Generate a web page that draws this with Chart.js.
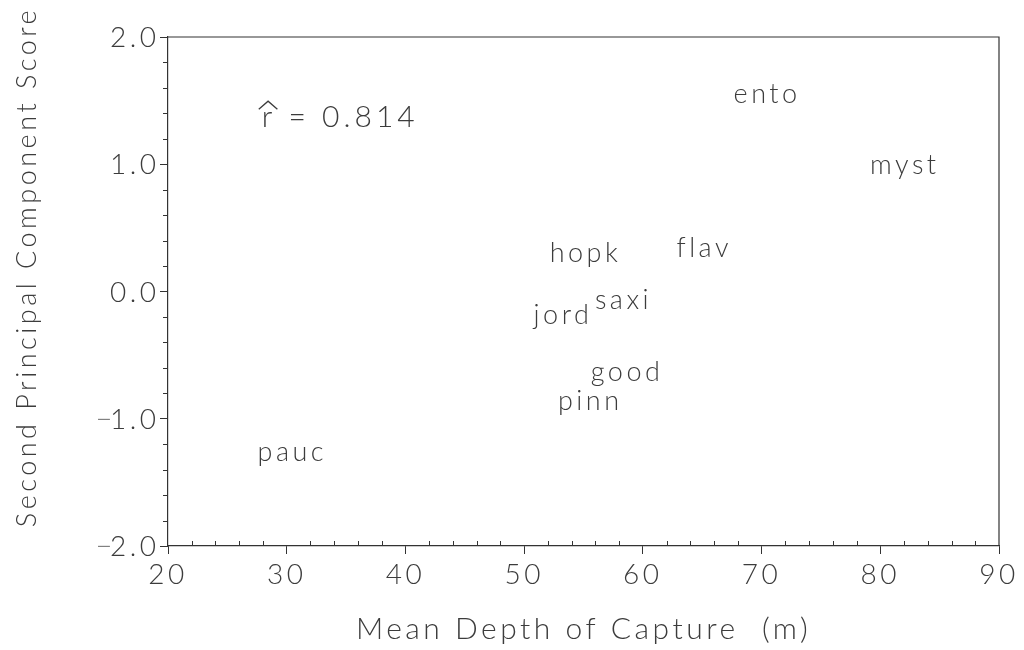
<!DOCTYPE html>
<html>
<head>
<meta charset="utf-8">
<script src="https://cdn.jsdelivr.net/npm/chart.js@4/dist/chart.umd.min.js"></script>
<style>
  html, body { margin: 0; padding: 0; background: #fff; }
  #wrap { width: 1024px; height: 650px; }
</style>
</head>
<body>
<div id="wrap"><canvas id="c" width="1024" height="650"></canvas></div>
<script>
// ---- data ----
const species = ["pauc", "hopk", "flav", "jord", "saxi", "good", "pinn", "ento", "myst"];
const meanDepth = [30.3, 55.0, 65.0, 53.1, 58.2, 58.5, 55.4, 70.3, 81.9];
const pcScore2 = [-1.28, 0.29, 0.33, -0.20, -0.08, -0.65, -0.88, 1.54, 0.98];
const xTicks = [20, 30, 40, 50, 60, 70, 80, 90];
const yTicks = [-2.0, -1.0, 0.0, 1.0, 2.0];
const rText = "r = 0.814";
const rAnchor = [27.9, 1.35];
const xTitle = "Mean Depth of Capture  (m)";
const yTitle = "Second Principal Component Score";

const FONT = "'Lato', 'Open Sans', sans-serif";
const INK = "#3c3c3c";
const LINE = "#333";
const SPACING = "3.5px";

const pts = meanDepth.map((x, i) => ({ x: x, y: pcScore2[i] }));

const spacingPlugin = {
  id: 'spacing',
  beforeDraw(chart) { chart.ctx.letterSpacing = SPACING; }
};

const labelPlugin = {
  id: 'labels',
  afterDatasetsDraw(chart) {
    const ctx = chart.ctx;
    const meta = chart.getDatasetMeta(0);
    ctx.save();
    ctx.letterSpacing = SPACING;
    ctx.fillStyle = INK;
    ctx.font = "300 27px " + FONT;
    const xh = ctx.measureText('x').actualBoundingBoxAscent;
    ctx.textAlign = 'center';
    ctx.textBaseline = 'alphabetic';
    meta.data.forEach((el, i) => {
      ctx.fillText(species[i], el.x + 2, el.y + xh / 2);
    });
    // r-hat annotation
    const xs = chart.scales.x, ys = chart.scales.y;
    const ax = xs.getPixelForValue(rAnchor[0]);
    const ay = ys.getPixelForValue(rAnchor[1]);
    ctx.textAlign = 'left';
    ctx.letterSpacing = "4px";
    ctx.font = "300 30px " + FONT;
    const xh2 = ctx.measureText('x').actualBoundingBoxAscent;
    ctx.fillText(rText, ax, ay + xh2 / 2);
    ctx.letterSpacing = "0px";
    const rw = ctx.measureText('r').width;
    const top = ay - xh2 / 2;
    ctx.strokeStyle = INK;
    ctx.lineWidth = 1.3;
    ctx.beginPath();
    ctx.moveTo(ax - 3, top - 3);
    ctx.lineTo(ax + rw / 2 + 1, top - 11);
    ctx.lineTo(ax + rw + 5, top - 3);
    ctx.stroke();
    ctx.restore();
  }
};

const framePlugin = {
  id: 'frame',
  afterDraw(chart) {
    const ctx = chart.ctx;
    const a = chart.chartArea;
    const xs = chart.scales.x, ys = chart.scales.y;
    ctx.save();
    ctx.strokeStyle = LINE;
    ctx.lineWidth = 1.2;
    ctx.beginPath();
    ctx.moveTo(a.left, a.top); ctx.lineTo(a.right, a.top); ctx.lineTo(a.right, a.bottom);
    ctx.stroke();
    // minor ticks
    ctx.lineWidth = 1;
    ctx.beginPath();
    for (let v = xs.min; v <= xs.max + 1e-9; v += 2) {
      if (Math.abs(v % 10) < 1e-9) continue;
      const px = Math.round(xs.getPixelForValue(v)) + 0.5;
      ctx.moveTo(px, a.bottom); ctx.lineTo(px, a.bottom - 5);
    }
    for (let v = ys.min; v <= ys.max + 1e-9; v += 0.2) {
      const r = Math.round(v * 10) / 10;
      if (Math.abs(r - Math.round(r)) < 1e-9) continue;
      const py = Math.round(ys.getPixelForValue(r)) + 0.5;
      ctx.moveTo(a.left, py); ctx.lineTo(a.left - 5, py);
    }
    ctx.stroke();
    // y tick labels (drawn at the scale's own pixel positions)
    ctx.fillStyle = INK;
    ctx.textBaseline = 'alphabetic';
    ctx.textAlign = 'right';
    const labelRight = a.left - 12;
    yTicks.forEach(v => {
      const py = ys.getPixelForValue(v);
      ctx.letterSpacing = SPACING;
      ctx.font = "300 28px " + FONT;
      const num = Math.abs(v).toFixed(1);
      const m = ctx.measureText(num);
      const capH = m.actualBoundingBoxAscent;
      ctx.fillText(num, labelRight + 3.5, py + capH / 2);
      if (v < 0) {
        ctx.letterSpacing = "0px";
        ctx.font = "200 19px 'DejaVu Sans', sans-serif";
        const mm = ctx.measureText("\u2212");
        const off = (mm.actualBoundingBoxAscent - mm.actualBoundingBoxDescent) / 2;
        ctx.fillText("\u2212", labelRight - m.width + 3.5 + 2, py + off);
      }
    });
    // y axis title
    ctx.letterSpacing = SPACING;
    ctx.font = "300 27px " + FONT;
    ctx.translate(36, 267);
    ctx.rotate(-Math.PI / 2);
    ctx.textAlign = 'center';
    ctx.textBaseline = 'alphabetic';
    ctx.fillText(yTitle, 0, 0);
    ctx.restore();
  }
};

new Chart(document.getElementById('c'), {
  type: 'scatter',
  data: {
    datasets: [{
      data: pts,
      pointRadius: 0,
      pointHoverRadius: 0,
      showLine: false
    }]
  },
  options: {
    responsive: false,
    animation: false,
    events: [],
    layout: { padding: { top: 37, right: 25, left: 0, bottom: 0 } },
    plugins: { legend: { display: false }, tooltip: { enabled: false } },
    scales: {
      x: {
        type: 'linear',
        min: 20, max: 90,
        afterBuildTicks(s) { s.ticks = xTicks.map(v => ({ value: v })); },
        afterFit(s) { s.height = 104; },
        border: { display: true, color: LINE, width: 1.2 },
        grid: { drawOnChartArea: false, drawTicks: true, tickLength: 8, color: LINE, lineWidth: 1 },
        ticks: { color: INK, font: { family: FONT, size: 28, weight: '300' }, padding: 4,
                 callback: v => String(v) },
        title: { display: true, text: xTitle, color: INK,
                 font: { family: FONT, size: 30, weight: '300' }, padding: { top: 0, bottom: 3 } }
      },
      y: {
        type: 'linear',
        min: -2, max: 2,
        afterBuildTicks(s) { s.ticks = yTicks.map(v => ({ value: v })); },
        afterFit(s) { s.width = 168; },
        border: { display: true, color: LINE, width: 1.2 },
        grid: { drawOnChartArea: false, drawTicks: true, tickLength: 8, color: LINE, lineWidth: 1 },
        ticks: { display: false },
        title: { display: false }
      }
    }
  },
  plugins: [spacingPlugin, labelPlugin, framePlugin]
});
</script>
</body>
</html>
